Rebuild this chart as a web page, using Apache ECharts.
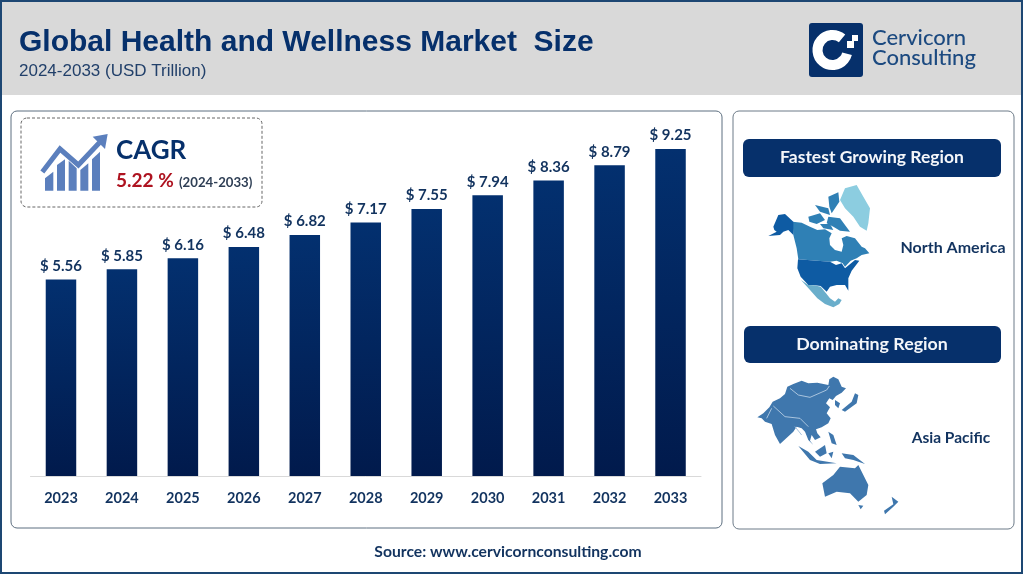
<!DOCTYPE html>
<html><head><meta charset="utf-8">
<style>html,body{margin:0;padding:0;background:#fff}#c{width:1024px;height:576px}</style>
<script src="https://cdn.jsdelivr.net/npm/echarts@6/dist/echarts.min.js"></script></head>
<body><div id="c"></div>
<script>
const years = ['2023','2024','2025','2026','2027','2028','2029','2030','2031','2032','2033'];
const marketSize = [5.56,5.85,6.16,6.48,6.82,7.17,7.55,7.94,8.36,8.79,9.25];

const NAVY='#06306b', TXT='#12335f';
const naOff=[730,0], apOff=[730,320];
const conv=(pts,o)=>pts.map(p=>[o[0]+p[0]/3,o[1]+p[1]/3]);
const poly=(pts,o,fill)=>({type:'polygon',shape:{points:conv(pts,o)},style:{fill},silent:true});
const line=(pts,o,stroke,w)=>({type:'polyline',shape:{points:conv(pts,o)},style:{stroke,lineWidth:w||1,fill:null},silent:true});
const rect=(x,y,w,h,r,style)=>({type:'rect',shape:{x,y,width:w,height:h,r},style,silent:true});
const text=(x,y,t,font,fill,align)=>({type:'text',x,y,style:{text:t,font,fill,align:align||'left',verticalAlign:'middle'},silent:true});
const LATO='Lato, "Noto Sans", sans-serif', ARIAL='"Liberation Sans", Arial, sans-serif';

const CA='#2f80b5', US='#0e5ba3';
const naShapes=[
 poly([[330,600],[345,565],[380,555],[400,590],[420,625],[415,670],[410,692],[390,680],[370,650],[345,625]],naOff,'#8ccde0'),
 poly([[188,665],[215,668],[240,680],[262,690],[285,688],[305,700],[298,715],[300,735],[315,750],[335,755],[340,735],[335,715],[350,708],[375,715],[395,740],[405,745],[418,760],[395,765],[380,775],[362,782],[345,800],[338,790],[320,782],[300,785],[205,778],[200,745],[190,705]],naOff,CA),
 poly([[235,650],[270,640],[285,660],[260,672],[238,665]],naOff,CA),
 poly([[255,615],[295,625],[300,645],[270,635]],naOff,CA),
 poly([[295,590],[325,577],[328,605],[305,640],[298,620]],naOff,CA),
 poly([[295,650],[330,655],[360,695],[330,692],[310,680],[290,670]],naOff,CA),
 poly([[270,672],[300,672],[310,690],[280,685]],naOff,CA),
 poly([[130,680],[145,645],[165,642],[190,665],[190,705],[175,690],[160,695],[150,705],[115,708],[140,695],[133,690]],naOff,US),
 poly([[213,840],[235,855],[252,856],[272,860],[288,880],[300,895],[315,905],[325,895],[335,900],[328,912],[310,922],[285,912],[262,895],[240,870]],naOff,'#6aaecb'),
 poly([[204,778],[300,785],[318,795],[335,790],[345,805],[375,780],[388,782],[365,812],[355,835],[355,872],[345,855],[320,855],[300,860],[290,875],[272,858],[250,855],[235,855],[212,830],[202,805]],naOff,US)
];
const apFill='#3f77ad';
const apShapes=[
 poly([[82,292],[100,280],[118,262],[128,245],[150,235],[165,222],[172,200],[190,192],[215,182],[235,190],[262,188],[295,195],[298,178],[310,170],[325,178],[335,200],[348,205],[335,218],[318,228],[308,240],[298,235],[288,250],[300,262],[290,280],[302,295],[295,310],[275,322],[258,328],[262,340],[272,352],[255,360],[245,345],[240,362],[250,375],[235,360],[225,335],[215,325],[200,320],[190,335],[150,372],[135,345],[125,312],[105,305],[95,295]],apOff,apFill),
 poly([[335,270],[365,245],[375,220],[385,225],[380,250],[345,275]],apOff,apFill),
 poly([[315,240],[330,250],[325,265],[315,255]],apOff,apFill),
 poly([[295,335],[310,345],[320,375],[305,370]],apOff,apFill),
 poly([[205,378],[235,395],[260,420],[320,430],[270,432],[240,420]],apOff,apFill),
 poly([[255,395],[285,375],[290,400],[270,410]],apOff,apFill),
 poly([[295,400],[310,395],[305,415]],apOff,apFill),
 poly([[335,400],[370,405],[405,432],[370,420],[345,415]],apOff,apFill),
 poly([[277,490],[310,465],[330,440],[375,445],[385,435],[415,495],[410,525],[385,545],[360,520],[320,515],[285,530]],apOff,apFill),
 poly([[385,555],[400,557],[392,568]],apOff,apFill),
 poly([[485,530],[505,545],[490,560],[465,583],[462,572],[490,553]],apOff,apFill),
 line([[180,205],[205,225],[240,232],[290,210],[298,198]],apOff,'#a9c4de'),
 line([[130,258],[165,290],[210,295],[235,320]],apOff,'#a9c4de'),
 line([[110,295],[125,265]],apOff,'#a9c4de'),
 line([[195,320],[215,345]],apOff,'#a9c4de')
];
const iconFill='#5b7fbd';
const iconOff=[0,0];
const iconShapes=[
 poly([[135,572],[135,535],[160,515],[160,572]],iconOff,iconFill),
 poly([[171,572],[171,495],[195,478],[195,572]],iconOff,iconFill),
 poly([[206,572],[206,482],[230,505],[230,572]],iconOff,iconFill),
 poly([[241,572],[241,510],[265,490],[265,572]],iconOff,iconFill),
 poly([[276,572],[276,478],[300,455],[300,572]],iconOff,iconFill),
 line([[127,516],[180,447],[235,495],[298,428]],iconOff,iconFill,5),
 poly([[278,410],[323,402],[315,447]],iconOff,iconFill)
];
const logo=[
 rect(809,23,54,54,3,{fill:NAVY}),
 {type:'arc',shape:{cx:832.5,cy:50,r:15,startAngle:-Math.PI*0.28,endAngle:Math.PI*0.08,clockwise:false},style:{stroke:'#fff',lineWidth:10,fill:null,lineCap:'butt'},silent:true},
 rect(852,35,6,6,0,{fill:'#fff'}),
 rect(847,41,7,7,0,{fill:'#fff'}),
 text(872,38,'Cervicorn','500 22px '+LATO,'#1c4a80'),
 text(872,58,'Consulting','500 22px '+LATO,'#1c4a80')
];

const graphics=[
 rect(0,0,1024,576,0,{fill:'#fff'}),
 rect(2,2,1020,93,0,{fill:'#d9d9d9'}),
 rect(1,1,1021,572,0,{fill:null,stroke:'#1d4773',lineWidth:2}),
 text(19,43,'Global Health and Wellness Market  Size','bold 30px '+ARIAL,'#06306b'),
 text(19,71,'2024-2033 (USD Trillion)','17px '+ARIAL,'#22406a'),
 ...logo,
 rect(11,111,711,417,6,{fill:'#fff',stroke:'#5d6f80',lineWidth:1}),
 rect(733,111,281,418,6,{fill:'#fff',stroke:'#6d7b88',lineWidth:1}),
 rect(21,118,241,89,6,{fill:'#fff',stroke:'#666',lineWidth:1,lineDash:[3,2]}),
 ...iconShapes,
 text(116,151,'CAGR','bold 26px '+LATO,'#06306b'),
 text(116,181,'5.22 %','bold 19px '+LATO,'#ae1320'),
 text(179,183,'(2024-2033)','bold 13.2px '+LATO,'#2f3f55'),
 rect(743,139,258,38,6,{fill:NAVY}),
 text(872,157,'Fastest Growing Region','bold 17.5px '+LATO,'#f4f6fa','center'),
 rect(744,326,257,37,6,{fill:NAVY}),
 text(872,344,'Dominating Region','bold 17.8px '+LATO,'#f4f6fa','center'),
 ...naShapes,
 ...apShapes,
 text(953,248,'North America','bold 16px '+LATO,TXT,'center'),
 text(951,438,'Asia Pacific','bold 15.5px '+LATO,TXT,'center'),
 text(508,552,'Source: www.cervicornconsulting.com','bold 15.7px '+LATO,TXT,'center')
];

const chart=echarts.init(document.getElementById('c'),null,{renderer:'canvas'});
chart.setOption({
 animation:false,
 graphic:{elements:graphics.map(g=>({...g,z:-10,zlevel:0}))},
 grid:{left:30.5,right:323,top:122.5,bottom:100,containLabel:false},
 xAxis:{type:'category',data:years,
  axisLine:{lineStyle:{color:'#d9d9d9',width:1}},axisTick:{show:false},
  axisLabel:{color:TXT,fontFamily:'Lato',fontWeight:'bold',fontSize:14.5,margin:15}},
 yAxis:{type:'value',min:0,max:10,show:false,splitLine:{show:false}},
 series:[{type:'bar',data:marketSize,barWidth:30.5,z:5,
  itemStyle:{color:new echarts.graphic.LinearGradient(0,0,0,1,[{offset:0,color:'#03306f'},{offset:1,color:'#011a4c'}],false)},
  label:{show:true,position:'top',distance:6,color:TXT,fontFamily:'Lato',fontWeight:'bold',fontSize:15,
   formatter:p=>'$ '+p.value.toFixed(2)}}]
});
</script></body></html>
